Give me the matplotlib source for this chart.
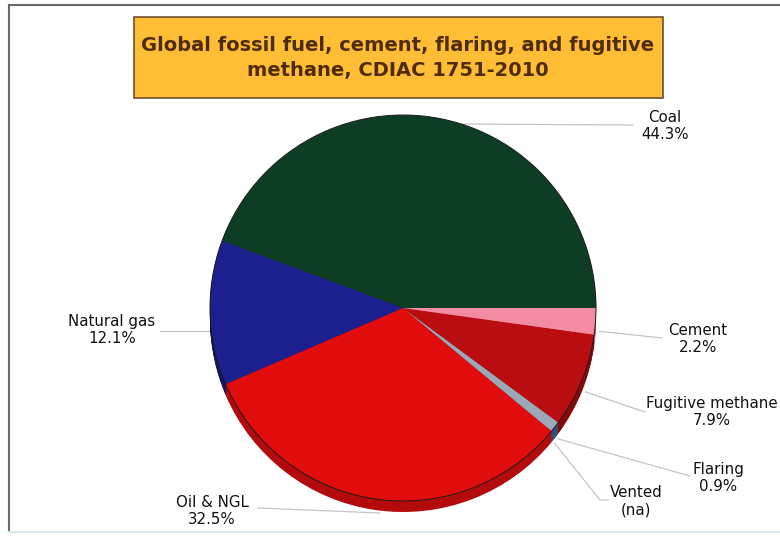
import numpy as np
import matplotlib
matplotlib.use('Agg')
import matplotlib.pyplot as plt
from matplotlib.patches import Rectangle, Circle
from matplotlib.lines import Line2D

plt.rcParams['font.family'] = 'DejaVu Sans'

# Данные
labels = ['Coal', 'Natural gas', 'Oil & NGL', 'Vented', 'Flaring', 'Fugitive methane', 'Cement']
values = [44.3, 12.1, 32.5, 0.0, 0.9, 7.9, 2.2]
pct_text = ['44.3%', '12.1%', '32.5%', '(na)', '0.9%', '7.9%', '2.2%']
colors = ['#0d3d22', '#1c1f8e', '#e10c0c', '#9aa8b8', '#9aa8b8', '#b90d0f', '#f28ca2']
side_colors = ['#082a17', '#121566', '#b30b0b', '#3c4a78', '#3c4a78', '#860a0a', '#c06478']

title = 'Global fossil fuel, cement, flaring, and fugitive\nmethane, CDIAC 1751-2010'

W, H = 780, 537
cx, cy, R = 403, 308, 193   # центр и радиус пирога в пикселях
depth = 11                  # толщина "3D"

fig = plt.figure(figsize=(W / 100, H / 100), dpi=100)
ax = fig.add_axes([0, 0, 1, 1])
ax.set_aspect('equal')
ax.axis('off')


def px(x, y):
    return (x - cx) / R, (cy - y) / R


# боковая стенка (несколько смещённых копий)
n = 12
for k in range(n, 0, -1):
    off = depth / R * k / n
    ax.pie(values, colors=side_colors, startangle=0, counterclock=True,
           radius=1, center=(0, -off), wedgeprops=dict(linewidth=0), frame=False)

# верхняя грань
ax.pie(values, colors=colors, startangle=0, counterclock=True, radius=1,
       center=(0, 0), wedgeprops=dict(linewidth=0), frame=False)
ax.add_patch(Circle((0, 0), 1, fill=False, edgecolor='#1a1a1a', linewidth=0.7))
ax.set_xlim(-cx / R, (W - cx) / R)
ax.set_ylim(-(H - cy) / R, cy / R)

# подписи: положение текста и конец выноски (пиксели)
label_pos = {
    'Coal': (665, 126),
    'Natural gas': (112, 330),
    'Oil & NGL': (212, 511),
    'Vented': (636, 501),
    'Flaring': (718, 478),
    'Fugitive methane': (712, 412),
    'Cement': (698, 339),
}
leader_end = {
    'Coal': [(633, 125)],
    'Natural gas': [(160, 331)],
    'Oil & NGL': [(258, 508)],
    'Vented': [(600, 500), (608, 500)],
    'Flaring': [(690, 476)],
    'Fugitive methane': [(645, 412)],
    'Cement': [(662, 338)],
}
leader_start_px = {
    'Natural gas': (212, 331),
    'Oil & NGL': (380, 513),
}

cum = np.cumsum([0] + values)
total = cum[-1]
for i, lab in enumerate(labels):
    mid = np.deg2rad(360 * (cum[i] + cum[i + 1]) / 2 / total)
    if lab in leader_start_px:
        sx, sy = px(*leader_start_px[lab])
    else:
        sx, sy = np.cos(mid) * 1.02, np.sin(mid) * 1.02 - 0.05
    pts = [(sx, sy)] + [px(*p) for p in leader_end[lab]]
    ax.plot([p[0] for p in pts], [p[1] for p in pts], color='#c4c4c4',
            linewidth=0.9, zorder=0.5)
    tx, ty = px(*label_pos[lab])
    ax.text(tx, ty, lab + '\n' + pct_text[i], ha='center', va='center',
            fontsize=10.8, color='#111111', linespacing=1.2)

# заголовок в оранжевой рамке
fig.add_artist(Rectangle((134 / W, 1 - 98 / H), (663 - 134) / W, (98 - 17) / H,
                         transform=fig.transFigure, facecolor='#ffbe36',
                         edgecolor='#6e5030', linewidth=1.2, zorder=5))
fig.text(398 / W, 1 - 58 / H, title, ha='center', va='center', fontsize=14,
         fontweight='bold', color='#4f2c08', linespacing=1.35, zorder=6)

# рамка
fig.add_artist(Line2D([9 / W, 9 / W], [1 - 532 / H, 1 - 5 / H], color='#6a6a6a',
                      linewidth=1.5, transform=fig.transFigure))
fig.add_artist(Line2D([9 / W, 1], [1 - 5 / H, 1 - 5 / H], color='#6a6a6a',
                      linewidth=1.5, transform=fig.transFigure))
fig.add_artist(Line2D([9 / W, 1], [1 - 532 / H, 1 - 532 / H], color='#d6e6ee',
                      linewidth=1.5, transform=fig.transFigure))

plt.savefig('out.png', dpi=100)
